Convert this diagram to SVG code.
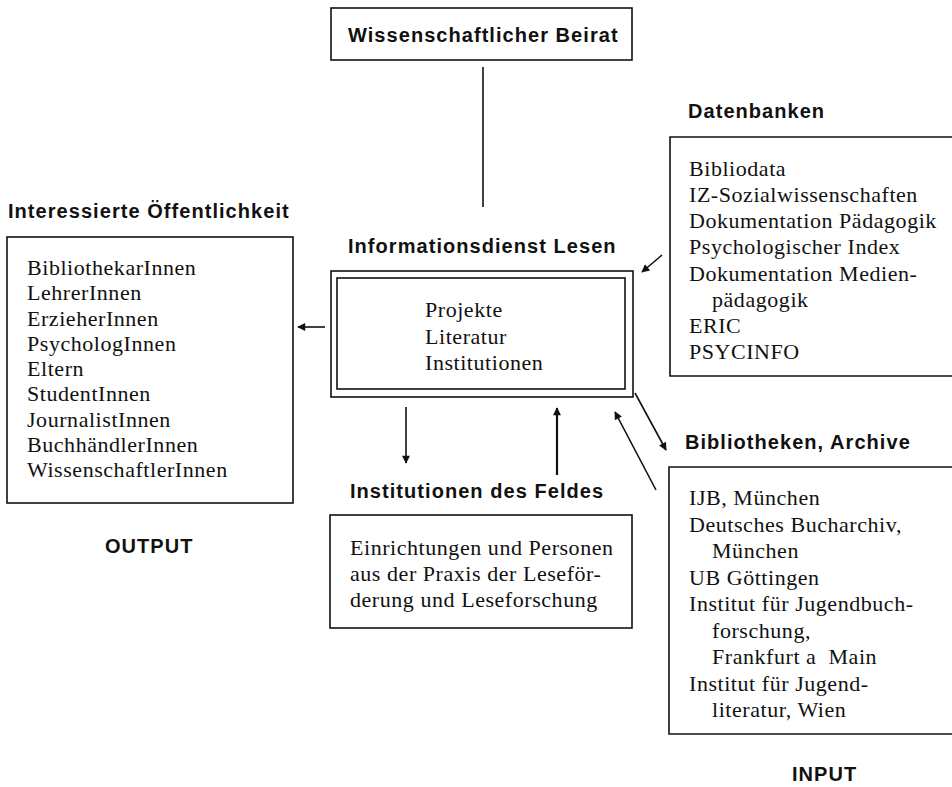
<svg xmlns="http://www.w3.org/2000/svg" width="952" height="787" viewBox="0 0 952 787">
<style>
  .bg{fill:#ffffff}
  .box{fill:none;stroke:#111;stroke-width:1.6}
  .lbl{font-family:"Liberation Sans",Arial,sans-serif;font-weight:bold;font-size:20px;letter-spacing:1.05px;fill:#111}
  .txt{font-family:"Liberation Serif","Times New Roman",serif;font-size:22px;letter-spacing:0.55px;fill:#111}
  .con{stroke:#111;stroke-width:1.6;fill:none}
  .thick{stroke-width:2.2}
</style>
<defs>
  <marker id="ah" viewBox="0 0 10 10" refX="9" refY="5" markerWidth="9" markerHeight="8" markerUnits="userSpaceOnUse" orient="auto">
    <path d="M0,0 L10,5 L0,10 z" fill="#111"/>
  </marker>
</defs>
<rect class="bg" x="0" y="0" width="952" height="787"/>

<g id="beirat">
  <rect class="box" x="331" y="8" width="301" height="52"/>
  <text class="lbl" x="348" y="42">Wissenschaftlicher Beirat</text>
</g>

<g id="oeffentlichkeit">
  <text class="lbl" x="8" y="218">Interessierte Öffentlichkeit</text>
  <rect class="box" x="7" y="237" width="286" height="266"/>
  <text class="txt" x="27" y="275">BibliothekarInnen</text>
  <text class="txt" x="27" y="300.25">LehrerInnen</text>
  <text class="txt" x="27" y="325.5">ErzieherInnen</text>
  <text class="txt" x="27" y="350.75">PsychologInnen</text>
  <text class="txt" x="27" y="376">Eltern</text>
  <text class="txt" x="27" y="401.25">StudentInnen</text>
  <text class="txt" x="27" y="426.5">JournalistInnen</text>
  <text class="txt" x="27" y="451.75">BuchhändlerInnen</text>
  <text class="txt" x="27" y="477">WissenschaftlerInnen</text>
  <text class="lbl" x="105" y="553">OUTPUT</text>
</g>

<g id="informationsdienst">
  <text class="lbl" x="348" y="253">Informationsdienst Lesen</text>
  <rect class="box" x="331" y="271" width="302" height="126"/>
  <rect class="box" x="337" y="278" width="288" height="111"/>
  <text class="txt" x="425" y="317">Projekte</text>
  <text class="txt" x="425" y="343.5">Literatur</text>
  <text class="txt" x="425" y="370">Institutionen</text>
</g>

<g id="datenbanken">
  <text class="lbl" x="688" y="118">Datenbanken</text>
  <path class="box" d="M952,137 H670 V376 H952"/>
  <text class="txt" x="689" y="176">Bibliodata</text>
  <text class="txt" x="689" y="202.1">IZ-Sozialwissenschaften</text>
  <text class="txt" x="689" y="228.3">Dokumentation Pädagogik</text>
  <text class="txt" x="689" y="254.4">Psychologischer Index</text>
  <text class="txt" x="689" y="280.6">Dokumentation Medien-</text>
  <text class="txt" x="712" y="306.7">pädagogik</text>
  <text class="txt" x="689" y="332.9">ERIC</text>
  <text class="txt" x="689" y="359">PSYCINFO</text>
</g>

<g id="bibliotheken">
  <text class="lbl" x="685" y="449">Bibliotheken, Archive</text>
  <path class="box" d="M952,467 H669 V734 H952"/>
  <text class="txt" x="689" y="505">IJB, München</text>
  <text class="txt" x="689" y="531.5">Deutsches Bucharchiv,</text>
  <text class="txt" x="712" y="558">München</text>
  <text class="txt" x="689" y="584.5">UB Göttingen</text>
  <text class="txt" x="689" y="611">Institut für Jugendbuch-</text>
  <text class="txt" x="712" y="637.5">forschung,</text>
  <text class="txt" x="712" y="664" xml:space="preserve">Frankfurt a  Main</text>
  <text class="txt" x="689" y="690.5">Institut für Jugend-</text>
  <text class="txt" x="712" y="717">literatur, Wien</text>
  <text class="lbl" x="792" y="781">INPUT</text>
</g>

<g id="institutionen">
  <text class="lbl" x="350" y="498">Institutionen des Feldes</text>
  <rect class="box" x="330" y="515" width="302" height="113"/>
  <text class="txt" x="350" y="555">Einrichtungen und Personen</text>
  <text class="txt" x="350" y="581">aus der Praxis der Leseför-</text>
  <text class="txt" x="350" y="607">derung und Leseforschung</text>
</g>

<g id="connectors">
  <line class="con" x1="483" y1="67" x2="483" y2="207"/>
  <line class="con" x1="325" y1="327" x2="298" y2="327" marker-end="url(#ah)"/>
  <line class="con" x1="662" y1="255" x2="642" y2="272" marker-end="url(#ah)"/>
  <line class="con" x1="406" y1="407" x2="406" y2="463" marker-end="url(#ah)"/>
  <line class="con thick" x1="557" y1="475" x2="557" y2="408" marker-end="url(#ah)"/>
  <line class="con" x1="635" y1="393" x2="666" y2="450" marker-end="url(#ah)"/>
  <line class="con" x1="656" y1="490" x2="615" y2="412" marker-end="url(#ah)"/>
</g>
</svg>
